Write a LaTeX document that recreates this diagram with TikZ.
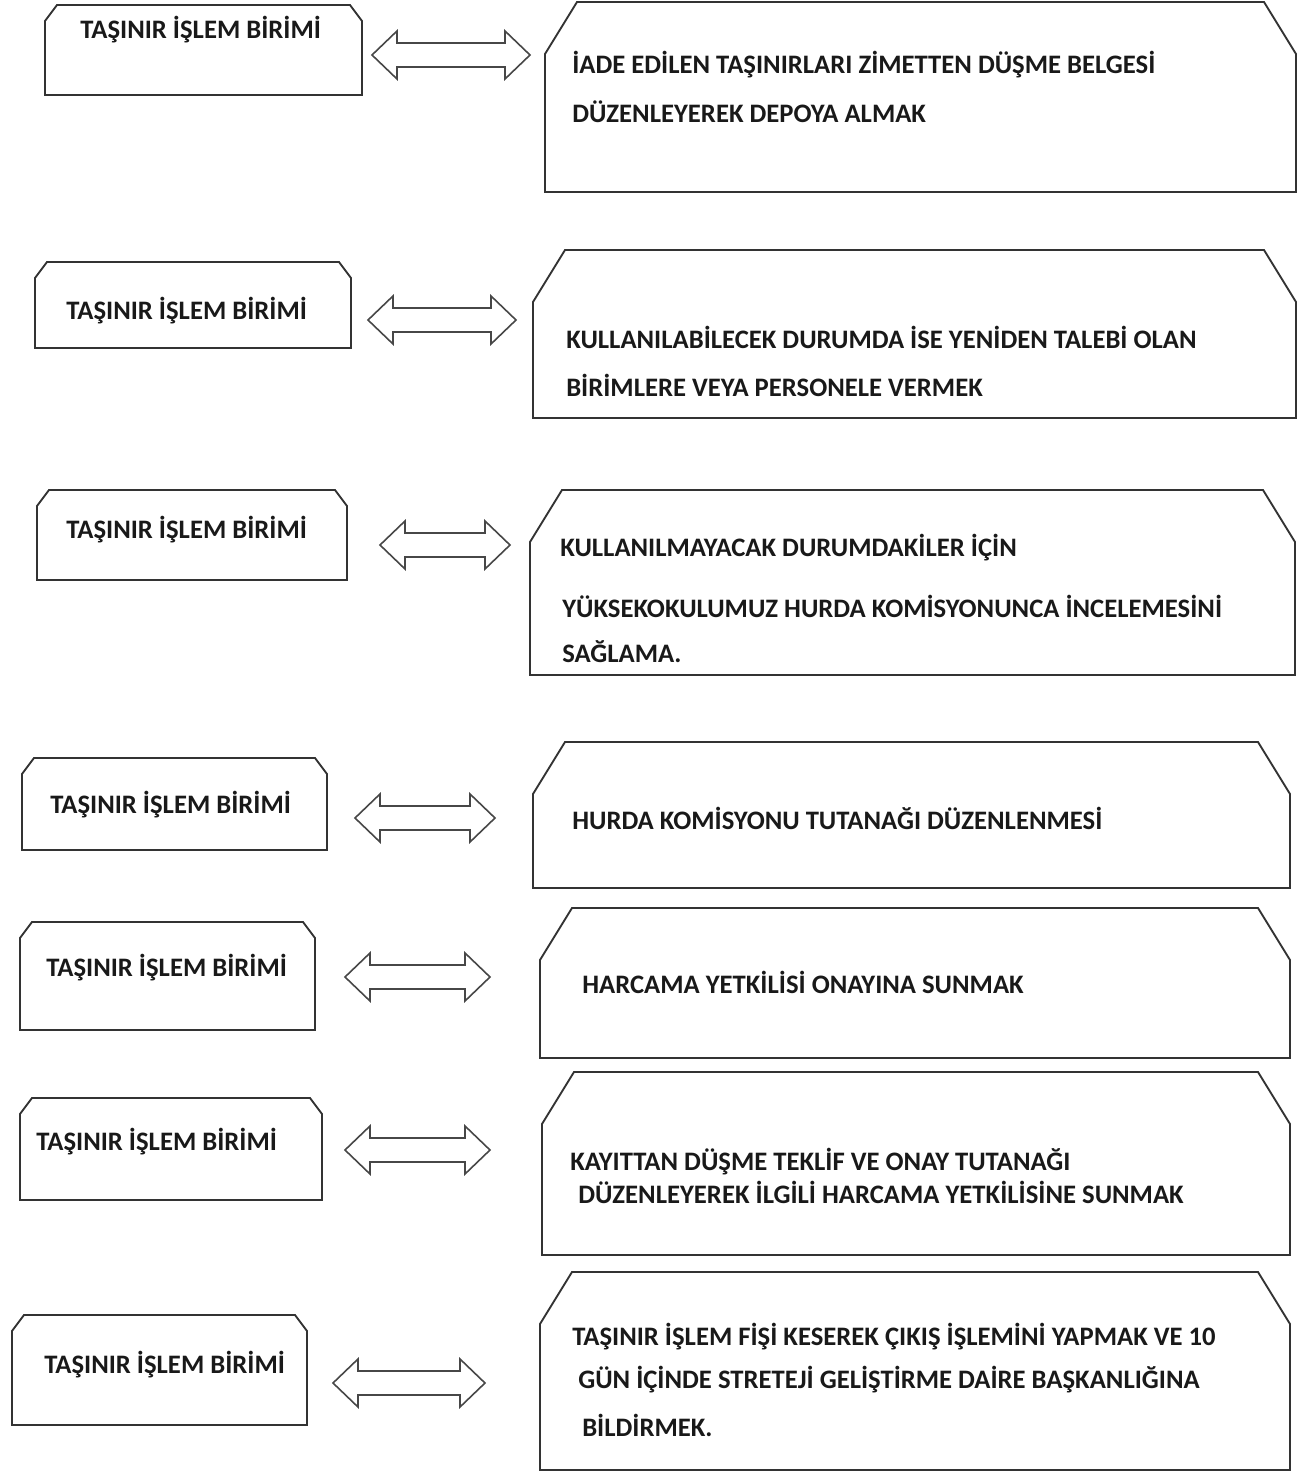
\documentclass[tikz,border=0pt]{standalone}
\usepackage{fontspec}
\setmainfont{Carlito}
\usetikzlibrary{calc}
\newcommand\boxpoly[7]{% name, x1,y1,x2,y2, cutx, cuty
  \coordinate (#1nw) at (#2,#3);
  \coordinate (#1se) at (#4,#5);
  \draw[boxline] (#2,#5) -- (#2,#3+#7) -- (#2+#6,#3) -- (#4-#6,#3) -- (#4,#3+#7) -- (#4,#5) -- cycle;
  \coordinate (#1w) at (#2,{(#3+#5)/2});
  \coordinate (#1e) at (#4,{(#3+#5)/2});
}
\newcommand\dblarr[2]{%
  \draw[arrowline] (#1) -- ($(#1)+(25,-24)$) -- ($(#1)+(25,-12)$) -- ($(#2)+(-25,-12)$) -- ($(#2)+(-25,-24)$) -- (#2)
   -- ($(#2)+(-25,24)$) -- ($(#2)+(-25,12)$) -- ($(#1)+(25,12)$) -- ($(#1)+(25,24)$) -- cycle;
}
\begin{document}
\begin{tikzpicture}[x=0.75pt,y=-0.75pt,
  boxline/.style={draw=black!80, line width=1.4pt, line join=miter},
  arrowline/.style={draw=black!72, line width=1.2pt, fill=white},
  txt/.style={anchor=west, inner sep=0pt, text=black!90, font=\fontsize{20}{24}\selectfont\bfseries}]
\useasboundingbox (0,0) rectangle (1302,1478);
% Row 1
\boxpoly{L1}{45}{5}{362}{95}{12}{16}
\boxpoly{R1}{545}{2}{1296}{192}{32}{52}
\node[txt] (l1) at (80,30) {TAŞINIR İŞLEM BİRİMİ};
\node[txt] (r1a) at (572,65) {İADE EDİLEN TAŞINIRLARI ZİMETTEN DÜŞME BELGESİ};
\node[txt] (r1b) at (572,112) {DÜZENLEYEREK DEPOYA ALMAK};
\coordinate (a1s) at (372,55); \coordinate (a1e) at (530,55);
\dblarr{a1s}{a1e}
% Row 2
\boxpoly{L2}{35}{262}{351}{348}{12}{16}
\boxpoly{R2}{533}{250}{1296}{418}{32}{52}
\node[txt] (l2) at (66,311) {TAŞINIR İŞLEM BİRİMİ};
\node[txt] (r2a) at (566,337) {KULLANILABİLECEK DURUMDA İSE YENİDEN TALEBİ OLAN};
\node[txt] (r2b) at (566,385) {BİRİMLERE VEYA PERSONELE VERMEK};
\coordinate (a2s) at (368,320); \coordinate (a2e) at (516,320);
\dblarr{a2s}{a2e}
% Row 3
\boxpoly{L3}{37}{490}{347}{580}{12}{16}
\boxpoly{R3}{530}{490}{1295}{675}{32}{52}
\node[txt] (l3) at (66,530) {TAŞINIR İŞLEM BİRİMİ};
\node[txt] (r3a) at (560,548) {KULLANILMAYACAK DURUMDAKİLER İÇİN};
\node[txt] (r3b) at (562,606) {YÜKSEKOKULUMUZ HURDA KOMİSYONUNCA İNCELEMESİNİ};
\node[txt] (r3c) at (562,652) {SAĞLAMA.};
\coordinate (a3s) at (380,545); \coordinate (a3e) at (510,545);
\dblarr{a3s}{a3e}
% Row 4
\boxpoly{L4}{22}{758}{327}{850}{12}{16}
\boxpoly{R4}{533}{742}{1290}{888}{32}{52}
\node[txt] (l4) at (50,805) {TAŞINIR İŞLEM BİRİMİ};
\node[txt] (r4a) at (572,818) {HURDA KOMİSYONU TUTANAĞI DÜZENLENMESİ};
\coordinate (a4s) at (355,818); \coordinate (a4e) at (495,818);
\dblarr{a4s}{a4e}
% Row 5
\boxpoly{L5}{20}{922}{315}{1030}{12}{16}
\boxpoly{R5}{540}{908}{1290}{1058}{32}{52}
\node[txt] (l5) at (46,968) {TAŞINIR İŞLEM BİRİMİ};
\node[txt] (r5a) at (582,982) {HARCAMA YETKİLİSİ ONAYINA SUNMAK};
\coordinate (a5s) at (345,977); \coordinate (a5e) at (490,977);
\dblarr{a5s}{a5e}
% Row 6
\boxpoly{L6}{20}{1098}{322}{1200}{12}{16}
\boxpoly{R6}{542}{1072}{1290}{1255}{32}{52}
\node[txt] (l6) at (36,1142) {TAŞINIR İŞLEM BİRİMİ};
\node[txt] (r6a) at (570,1162) {KAYITTAN DÜŞME TEKLİF VE ONAY TUTANAĞI};
\node[txt] (r6b) at (578,1192) {DÜZENLEYEREK İLGİLİ HARCAMA YETKİLİSİNE SUNMAK};
\coordinate (a6s) at (345,1150); \coordinate (a6e) at (490,1150);
\dblarr{a6s}{a6e}
% Row 7
\boxpoly{L7}{12}{1315}{307}{1425}{12}{16}
\boxpoly{R7}{540}{1272}{1290}{1470}{32}{52}
\node[txt] (l7) at (44,1365) {TAŞINIR İŞLEM BİRİMİ};
\node[txt] (r7a) at (572,1337) {TAŞINIR İŞLEM FİŞİ KESEREK ÇIKIŞ İŞLEMİNİ YAPMAK VE 10};
\node[txt] (r7b) at (578,1380) {GÜN İÇİNDE STRETEJİ GELİŞTİRME DAİRE BAŞKANLIĞINA};
\node[txt] (r7c) at (582,1425) {BİLDİRMEK.};
\coordinate (a7s) at (333,1383); \coordinate (a7e) at (485,1383);
\dblarr{a7s}{a7e}
\end{tikzpicture}
\end{document}
